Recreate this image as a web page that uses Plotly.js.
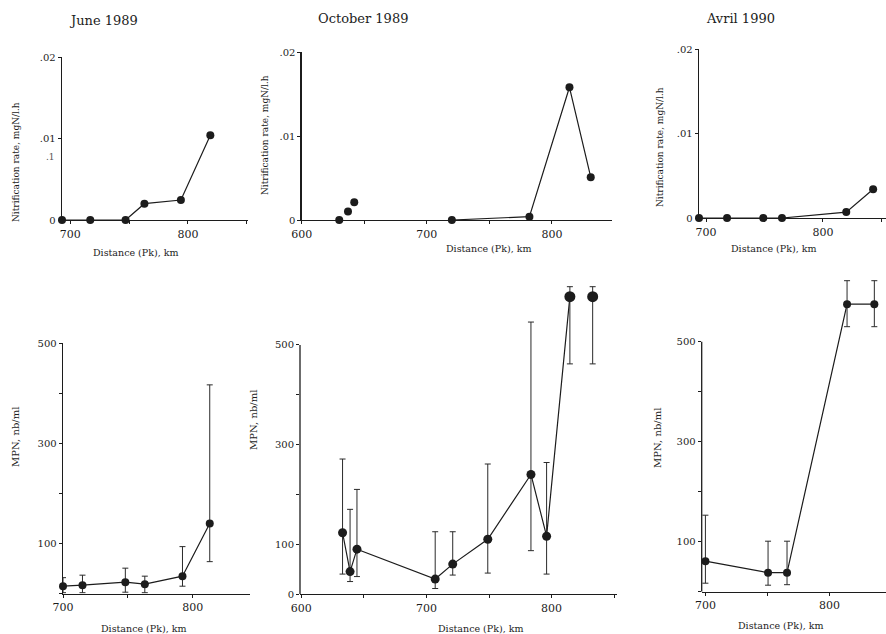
<!DOCTYPE html>
<html>
<head>
<meta charset="utf-8">
<script src="https://cdn.plot.ly/plotly-3.0.1.min.js"></script>
<style>html,body{margin:0;padding:0;background:#fff;}#chart{width:886px;height:634px;}</style>
</head>
<body>
<div id="chart"></div>
<script>
// ---- data ----
const panelTitles = ["June 1989", "October 1989", "Avril 1990"];

const june89NitX = [693, 717, 747, 763, 794, 819];
const june89NitY = [0, 0, 0, 0.002, 0.00245, 0.0104];

const oct89NitX = [630, 637, 642, 720, 782, 814, 831];
const oct89NitY = [0, 0.001, 0.0021, 0, 0.0004, 0.0158, 0.0051];

const avr90NitX = [694, 718, 749, 765, 820, 843];
const avr90NitY = [0, 0, 0, 0, 0.0007, 0.0034];

const june89MpnX = [700, 715, 748, 763, 792, 813];
const june89MpnY = [15, 17, 23, 19, 35, 140];
const june89MpnPlus = [17, 20, 28, 16, 59, 277];
const june89MpnMinus = [13, 15, 20, 17, 20, 76];

const oct89MpnX = [633, 639, 644.5, 707, 721, 749, 783.5, 796, 814.6, 832.8];
const oct89MpnY = [123, 45, 90, 30, 60, 110, 240, 116, 597, 597];
const oct89MpnPlus = [148, 125, 120, 95, 65, 151, 306, 148, 20, 20];
const oct89MpnMinus = [83, 20, 55, 19, 22, 68, 153, 76, 135, 135];

const avr90MpnX = [700, 750.5, 765.8, 814.2, 836.2];
const avr90MpnY = [61, 38, 38, 575, 575];
const avr90MpnPlus = [92, 63, 63, 47, 47];
const avr90MpnMinus = [44, 25, 24, 45, 45];

const nitTickVals = [0, 0.01, 0.02];
const nitTickText = ["0", ".01", ".02"];
const mpnTickVals = [0, 100, 200, 300, 400, 500];
const mpnTickText = ["", "100", "", "300", "", "500"];
const mpnTickText0 = ["0", "100", "", "300", "", "500"];

// ---- layout helpers ----
const W = 886, H = 634;
const FONT = "DejaVu Serif, Liberation Serif, serif";
const INK = "#1c1c1c";
const dx = (a, b) => [a / W, b / W];
const dy = (bottom, top) => [1 - bottom / H, 1 - top / H];

function xAxis(dom, range, tv, tt, anchor) {
  return {domain: dom, range: range, anchor: anchor, showline: true, linecolor: INK, linewidth: 1.3,
    showgrid: false, zeroline: false, ticks: "outside", ticklen: 3, tickcolor: INK, tickwidth: 1,
    tickvals: tv, ticktext: tt, tickfont: {family: FONT, size: 11, color: INK}, fixedrange: true};
}
function yAxis(dom, range, tv, tt, anchor, showline) {
  return {domain: dom, range: range, anchor: anchor, showline: showline, linecolor: INK, linewidth: 1.3,
    showgrid: false, zeroline: false, ticks: "outside", ticklen: 3, tickcolor: INK, tickwidth: 1,
    tickvals: tv, ticktext: tt, tickfont: {family: FONT, size: 10, color: INK}, fixedrange: true};
}

const lineStyle = {color: INK, width: 1.2};
function markers(x, y, xa, ya, size) {
  return {x: x, y: y, xaxis: xa, yaxis: ya, mode: "markers", type: "scatter", cliponaxis: false,
    marker: {color: INK, size: size || 8}, showlegend: false, hoverinfo: "skip"};
}
function lines(x, y, xa, ya) {
  return {x: x, y: y, xaxis: xa, yaxis: ya, mode: "lines", type: "scatter", cliponaxis: false,
    line: lineStyle, showlegend: false, hoverinfo: "skip"};
}
function errMarkers(x, y, plus, minus, xa, ya, size) {
  const t = markers(x, y, xa, ya, size);
  t.error_y = {type: "data", symmetric: false, array: plus, arrayminus: minus,
    color: "#2a2a2a", thickness: 1, width: 3};
  return t;
}

const traces = [
  // June 1989 nitrification
  lines(june89NitX, june89NitY, "x", "y"),
  markers(june89NitX, june89NitY, "x", "y"),
  // October 1989 nitrification (first three points not joined)
  lines(oct89NitX.slice(3), oct89NitY.slice(3), "x2", "y2"),
  markers(oct89NitX, oct89NitY, "x2", "y2"),
  // Avril 1990 nitrification
  lines(avr90NitX, avr90NitY, "x3", "y3"),
  markers(avr90NitX, avr90NitY, "x3", "y3"),
  // June 1989 MPN
  lines(june89MpnX, june89MpnY, "x4", "y4"),
  errMarkers(june89MpnX, june89MpnY, june89MpnPlus, june89MpnMinus, "x4", "y4", 8),
  // October 1989 MPN
  lines(oct89MpnX.slice(0, 9), oct89MpnY.slice(0, 9), "x5", "y5"),
  errMarkers(oct89MpnX.slice(0, 8), oct89MpnY.slice(0, 8), oct89MpnPlus.slice(0, 8), oct89MpnMinus.slice(0, 8), "x5", "y5", 9),
  errMarkers(oct89MpnX.slice(8), oct89MpnY.slice(8), oct89MpnPlus.slice(8), oct89MpnMinus.slice(8), "x5", "y5", 11),
  // Avril 1990 MPN
  lines(avr90MpnX, avr90MpnY, "x6", "y6"),
  errMarkers(avr90MpnX, avr90MpnY, avr90MpnPlus, avr90MpnMinus, "x6", "y6", 8)
];

function ann(text, px, py, size, angle, extra) {
  return Object.assign({text: text, x: px / W, y: 1 - py / H, xref: "paper", yref: "paper",
    showarrow: false, textangle: angle || 0, xanchor: "center", yanchor: "middle",
    font: {family: FONT, size: size, color: INK}}, extra || {});
}

const nitTitle = "Nitrification rate, mgN/l.h";
const distTitle = "Distance (Pk), km";
const mpnTitle = "MPN, nb/ml";

const layout = {
  width: W, height: H, margin: {l: 0, r: 0, t: 0, b: 0},
  paper_bgcolor: "#ffffff", plot_bgcolor: "rgba(0,0,0,0)", showlegend: false,
  xaxis: xAxis(dx(62, 248), [693, 851], [700, 750, 800, 850], ["700", "", "800", ""], "y"),
  yaxis: yAxis(dy(220, 57), [0, 0.02], nitTickVals, nitTickText, "x", true),
  xaxis2: xAxis(dx(301.7, 612), [600, 848], [600, 650, 700, 750, 800], ["600", "", "700", "", "800"], "y2"),
  yaxis2: yAxis(dy(220, 52), [0, 0.02], nitTickVals, nitTickText, "x2", true),
  xaxis3: xAxis(dx(699, 886), [694, 854], [700, 750, 800, 850], ["700", "", "800", ""], "y3"),
  yaxis3: yAxis(dy(218, 49), [0, 0.02], nitTickVals, nitTickText, "x3", true),
  xaxis4: xAxis(dx(63, 250), [700, 844], [700, 750, 800], ["700", "", "800"], "y4"),
  yaxis4: yAxis(dy(593.7, 343.3), [0, 500], mpnTickVals, mpnTickText, "x4", true),
  xaxis5: xAxis(dx(300, 616.7), [599, 852], [600, 650, 700, 750, 800, 850], ["600", "", "700", "", "800", ""], "y5"),
  yaxis5: yAxis(dy(594, 285.2), [0, 620], mpnTickVals, mpnTickText0, "x5", false),
  xaxis6: xAxis(dx(701.7, 886), [697, 845.6], [700, 750, 800], ["700", "", "800"], "y6"),
  yaxis6: yAxis(dy(591.7, 271.7), [0, 640], mpnTickVals, mpnTickText, "x6", false),
  shapes: [
    {type: "line", xref: "x5 domain", yref: "y5", x0: 0, x1: 0, y0: 0, y1: 500, line: {color: INK, width: 1.3}},
    {type: "line", xref: "x6 domain", yref: "y6", x0: 0, x1: 0, y0: 0, y1: 500, line: {color: INK, width: 1.3}}
  ],
  annotations: [
    ann(panelTitles[0], 103, 20, 13),
    ann(panelTitles[1], 363, 18, 13),
    ann(panelTitles[2], 740, 18, 13),
    ann(nitTitle, 16, 162, 9, -90),
    ann(nitTitle, 265, 135, 9, -90),
    ann(nitTitle, 660, 147, 9, -90),
    ann(distTitle, 135, 253, 9.5),
    ann(distTitle, 488, 248, 9.5),
    ann(distTitle, 773, 248, 9.5),
    ann(mpnTitle, 15, 437, 10, -90),
    ann(mpnTitle, 253, 420, 10, -90),
    ann(mpnTitle, 657, 438, 10, -90),
    ann(distTitle, 143, 628, 9.5),
    ann(distTitle, 480, 628, 9.5),
    ann(distTitle, 780, 625, 9.5),
    ann(".1", 50, 157, 9, 0, {font: {family: FONT, size: 9, color: "#555"}})
  ]
};

Plotly.newPlot("chart", traces, layout, {staticPlot: true, displayModeBar: false});
</script>
</body>
</html>
